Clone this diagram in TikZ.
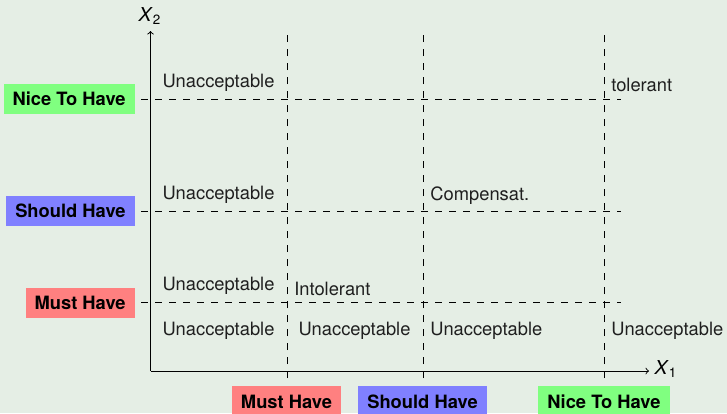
\documentclass[tikz,border=0pt]{standalone}
\usepackage{fontspec}
\setmainfont{TeX Gyre Heros}
\setsansfont{TeX Gyre Heros}
\definecolor{bgcol}{RGB}{229,238,229}
\definecolor{mustcol}{RGB}{255,128,128}
\definecolor{shouldcol}{RGB}{128,128,255}
\definecolor{nicecol}{RGB}{128,255,128}
\begin{document}
\begin{tikzpicture}[x=0.6pt,y=-0.6pt,
  grid/.style={dash pattern=on 4.2pt off 4.2pt, line width=0.5pt},
  axisline/.style={->, line width=0.55pt},
  lbl/.style={font=\fontsize{11}{13}\selectfont, inner sep=0pt, text=black!88},
  prio/.style={font=\fontsize{11}{13}\selectfont\bfseries, inner xsep=5.4pt, text height=8pt, text depth=0pt, minimum height=18pt},
  axlbl/.style={font=\fontsize{11.5}{13}\selectfont, inner sep=0pt}]
\useasboundingbox[fill=bgcol] (0,0) rectangle (727,413);
% axes
\coordinate (O) at (150.5,371);
\coordinate (xe) at (649,371);
\coordinate (ye) at (150.5,31);
\draw[axisline] (O) -- (xe);
\draw[axisline] (O) -- (ye);
\node[axlbl] (x1) at (666,369) {\textit{X}\textsubscript{1}};
\node[axlbl] (x2) at (150,16) {\textit{X}\textsubscript{2}};
% grid coordinates
\foreach \n/\x in {a/287,b/423,c/604}{
  \coordinate (\n b) at (\x,378);
  \coordinate (\n t) at (\x,34);
  \draw[grid] (\n b) -- (\n t);
}
\foreach \n/\y in {p/99,q/211,r/302}{
  \coordinate (\n l) at (141,\y);
  \coordinate (\n r) at (621,\y);
  \draw[grid] (\n l) -- (\n r);
}
% priority labels left
\node[prio, fill=nicecol, anchor=east] (ny) at (135,98.5) {Nice To Have};
\node[prio, fill=shouldcol, anchor=east] (sy) at (135,211.3) {Should Have};
\node[prio, fill=mustcol, anchor=east] (my) at (135,302.7) {Must Have};
% priority labels bottom
\node[prio, fill=mustcol, anchor=north] (mx) at (286.5,386) {Must Have};
\node[prio, fill=shouldcol, anchor=north] (sx) at (422.5,386) {Should Have};
\node[prio, fill=nicecol, anchor=north] (nx) at (604,386) {Nice To Have};
% region labels
\node[lbl, anchor=base] (u1) at (218.5,87) {Unacceptable};
\node[lbl, anchor=base west] (t1) at (611,91) {tolerant};
\node[lbl, anchor=base] (u2) at (218.5,199) {Unacceptable};
\node[lbl, anchor=base west] (c2) at (430,200) {Compensat.};
\node[lbl, anchor=base] (u3) at (218.5,290) {Unacceptable};
\node[lbl, anchor=base west] (i3) at (294,295) {Intolerant};
\node[lbl, anchor=base] (u4a) at (218.5,335) {Unacceptable};
\node[lbl, anchor=base] (u4b) at (354.5,335) {Unacceptable};
\node[lbl, anchor=base west] (u4c) at (430,335) {Unacceptable};
\node[lbl, anchor=base west] (u4d) at (611,335) {Unacceptable};
\end{tikzpicture}
\end{document}
